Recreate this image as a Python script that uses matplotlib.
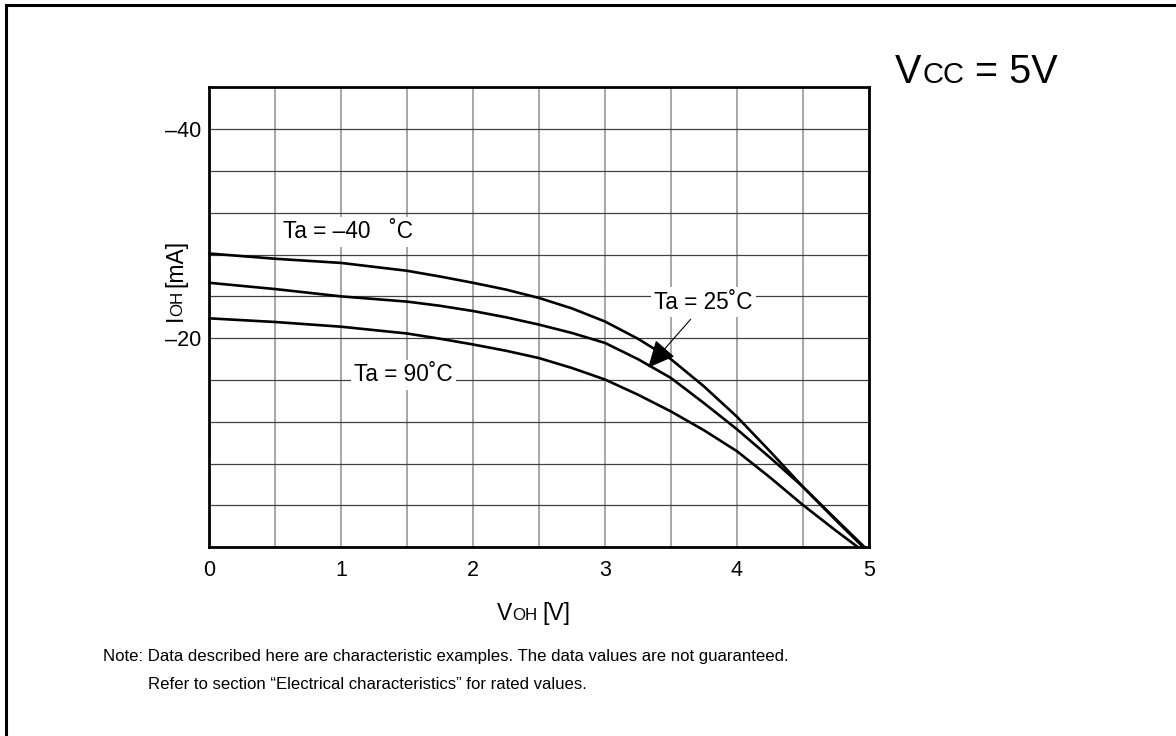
import matplotlib
matplotlib.use("Agg")
import matplotlib.pyplot as plt
from matplotlib import font_manager
from matplotlib.lines import Line2D
import numpy as np

plt.rcParams["font.family"] = ["Liberation Sans", "DejaVu Sans"]

# curves, IOH [mA] vs VOH [V]
voh_m40 = [0, 0.5, 1, 1.5, 1.75, 2, 2.25, 2.5, 2.75, 3, 3.25, 3.5, 3.75, 4,
           4.25, 4.5, 4.75, 4.97]
ioh_m40 = [-28.1, -27.6, -27.2, -26.45, -25.9, -25.3, -24.65, -23.85, -22.85,
           -21.6, -19.95, -18.0, -15.4, -12.5, -9.2, -5.8, -2.7, 0]

voh_25 = [0, 0.5, 1, 1.5, 1.75, 2, 2.25, 2.5, 2.75, 3, 3.25, 3.5, 3.75, 4,
          4.25, 4.5, 4.75, 4.96]
ioh_25 = [-25.3, -24.7, -24.0, -23.5, -23.1, -22.6, -22.0, -21.3, -20.5,
          -19.55, -18.0, -16.2, -13.8, -11.3, -8.6, -5.8, -2.6, 0]

voh_90 = [0, 0.5, 1, 1.5, 1.75, 2, 2.25, 2.5, 2.75, 3, 3.25, 3.5, 3.75, 4,
          4.25, 4.5, 4.75, 4.92]
ioh_90 = [-21.9, -21.55, -21.1, -20.45, -19.95, -19.4, -18.8, -18.1, -17.15,
          -16.05, -14.6, -13.0, -11.2, -9.2, -6.7, -4.06, -1.6, 0]

x_ticks = [0, 1, 2, 3, 4, 5]
y_ticks = [-40, -20]
y_tick_labels = ["\u201340", "\u201320"]

W, H = 1176, 736
fig = plt.figure(figsize=(W / 100, H / 100), dpi=100, facecolor="white")
ax = fig.add_axes([209.3 / W, 1 - 547.3 / H, (868.7 - 209.3) / W, (547.3 - 87.3) / H])

for xs, ys in [(voh_m40, ioh_m40), (voh_25, ioh_25), (voh_90, ioh_90)]:
    ax.plot(xs, ys, color="black", lw=1.9, zorder=4, clip_on=False,
            solid_joinstyle="round")

ax.set_xlim(0, 5)
ax.set_ylim(0, -44)
ax.set_xticks(x_ticks)
ax.set_xticks(np.arange(0, 5.01, 0.5), minor=True)
ax.set_xticklabels([str(v) for v in x_ticks])
ax.set_yticks(y_ticks)
ax.set_yticks(np.arange(-44, 0.1, 4), minor=True)
ax.set_yticklabels(y_tick_labels)
ax.tick_params(which="both", length=0, labelsize=15.5)
ax.tick_params(axis="x", pad=9)
ax.tick_params(axis="y", pad=6)

ax.xaxis.grid(True, which="both", color="#a0a0a0", lw=1.3)
ax.yaxis.grid(True, which="both", color="#404040", lw=0.9)
ax.set_axisbelow(True)
for sp in ax.spines.values():
    sp.set_linewidth(2)
    sp.set_color("black")
    sp.set_zorder(5)

box = dict(facecolor="white", edgecolor="none", pad=2.5)
ax.text(0.556, -29.56, "Ta = \u201340   \u02daC", fontsize=16.3, ha="left",
        va="baseline", bbox=box, zorder=3)
ax.text(3.374, -22.84, "Ta = 25\u02daC", fontsize=16.3, ha="left",
        va="baseline", bbox=box, zorder=3)
ax.text(1.097, -15.89, "Ta = 90\u02daC", fontsize=16.3, ha="left",
        va="baseline", bbox=box, zorder=3)
ax.annotate("", xy=(3.328, -17.18), xytext=(3.650, -21.81),
            arrowprops=dict(arrowstyle="-|>,head_length=0.85,head_width=0.4",
                            lw=0.8, color="black", shrinkA=0, shrinkB=0,
                            mutation_scale=20), zorder=4)

renderer = fig.canvas.get_renderer()


def mixed_text(x_px, y_px, parts, rotation=0):
    # parts: (string, fontsize, gap before in px); coords from top-left
    for s, size, gap in parts:
        if rotation == 90:
            y_px -= gap
        else:
            x_px += gap
        t = fig.text(x_px / W, 1 - y_px / H, s, fontsize=size, ha="left",
                     va="baseline", rotation=rotation, rotation_mode="anchor")
        bb = t.get_window_extent(renderer)
        if rotation == 90:
            y_px -= bb.height
        else:
            x_px += bb.width


mixed_text(895, 83.3, [("V", 28.5, 0), ("CC", 21, 1.5), ("= 5V", 28.5, 10)])
mixed_text(496.7, 620, [("V", 16.5, 0), ("OH", 12.2, 0.5), ("[V]", 16.5, 5)])
mixed_text(182, 321, [("I", 16.5, 0), ("OH", 12.2, -1), ("[mA]", 16.5, 4)], rotation=90)

# the note is set in a narrow face; fit its width if no narrow font exists
installed = {f.name for f in font_manager.fontManager.ttflist}
note_font = "Liberation Sans Narrow" if "Liberation Sans Narrow" in installed else "Liberation Sans"
line1 = ("Note: Data described here are characteristic examples. "
         "The data values are not guaranteed.")
line2 = "Refer to section \u201cElectrical characteristics\u201d for rated values."
t1 = fig.text(103 / W, 1 - 660.7 / H, line1, fontsize=14.5, family=note_font,
              ha="left", va="baseline")
note_size = 14.5 * 683 / t1.get_window_extent(renderer).width
t1.set_fontsize(note_size)
fig.text(147.7 / W, 1 - 689 / H, line2, fontsize=note_size, family=note_font,
         ha="left", va="baseline")

# frame around the sheet (only top and left are inside the picture)
fig.add_artist(Line2D([6 / W, 6 / W], [0, 1 - 5 / H], color="black", lw=2.2,
                      transform=fig.transFigure))
fig.add_artist(Line2D([6 / W, 1], [1 - 5 / H, 1 - 5 / H], color="black", lw=2.2,
                      transform=fig.transFigure))

fig.savefig("out.png", dpi=100, facecolor="white")
